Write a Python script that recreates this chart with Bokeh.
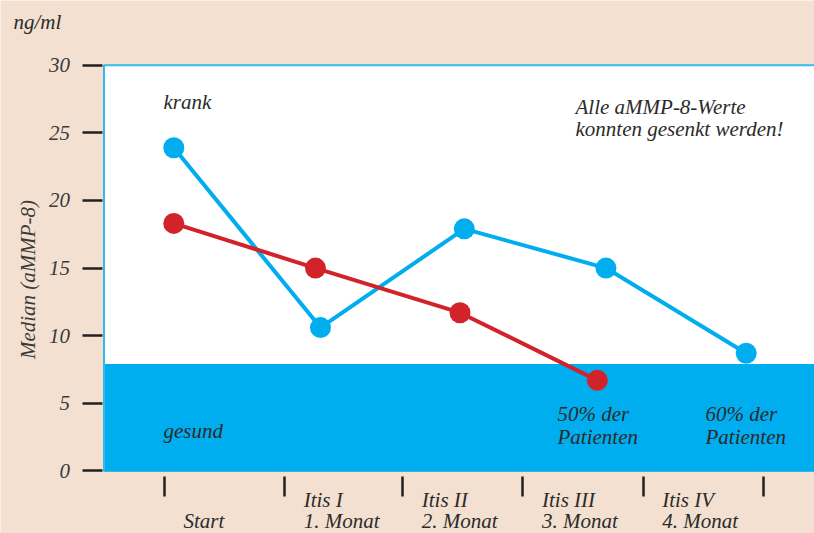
import math
from bokeh.plotting import figure
from bokeh.models import Range1d, FixedTicker, BoxAnnotation, Label
from bokeh.embed import file_html
from bokeh.resources import INLINE

# ---------------- data ----------------
y_ticks = [0, 5, 10, 15, 20, 25, 30]
blue_x = [0, 1.025, 2.03, 3.02, 4.0]
blue_y = [23.9, 10.6, 17.9, 15.0, 8.7]
red_x = [0, 0.99, 2.0, 2.96]
red_y = [18.3, 15.0, 11.7, 6.7]
healthy_top = 7.9           # upper limit of the "gesund" zone
y_max = 30
# boundaries between the time periods on the x axis
x_bounds = [-0.065, 0.775, 1.6, 2.44, 3.28, 4.12]
row1 = ["", "Itis I", "Itis II", "Itis III", "Itis IV"]
row2 = ["Start", "1. Monat", "2. Monat", "3. Monat", "4. Monat"]
y_title = "Median (aMMP-8)"
unit_text = "ng/ml"
zone_ill = "krank"
zone_healthy = "gesund"
note_lines = ["Alle aMMP-8-Werte", "konnten gesenkt werden!"]
share_red = ["50% der", "Patienten"]
share_blue = ["60% der", "Patienten"]

# ---------------- layout / style ----------------
BEIGE = "#f3e0d0"
BLUE = "#00aeef"
RED = "#d2232a"
INK = "#2b2b2b"
FONT = "Liberation Serif"
FS = "21px"

W, H = 814, 533
SX = 143.1     # px per period
SY = 13.525    # px per ng/ml
X0 = -173.3 / SX
X1 = X0 + W / SX
Y0 = -(H - 470.45) / SY
Y1 = Y0 + H / SY
TXT_SHIFT = 7  # baseline correction for labels (px)


def dx(px):
    return X0 + px / SX


def dy(py):
    return Y0 + (H - py) / SY


def ty(py):
    return dy(py - TXT_SHIFT)


p = figure(width=W, height=H, output_backend="svg", toolbar_location=None,
           x_range=Range1d(X0, X1), y_range=Range1d(Y0, Y1), title=None,
           min_border=0, min_border_left=0, min_border_right=0,
           min_border_top=0, min_border_bottom=0)
p.background_fill_color = BEIGE
p.border_fill_color = BEIGE
p.outline_line_color = None
p.grid.visible = False

# white panel and healthy zone
p.add_layout(BoxAnnotation(left=dx(103.5), right=X1 + 1, bottom=0, top=y_max,
                           fill_color="white", fill_alpha=1,
                           line_color=BLUE, line_width=2, line_alpha=0.8,
                           level="underlay"))
p.add_layout(BoxAnnotation(left=dx(104.5), right=X1 + 1, bottom=0, top=healthy_top,
                           fill_color=BLUE, fill_alpha=1, line_color=None,
                           level="underlay"))

# axes (drawn at fixed places inside the canvas)
ya = p.yaxis[0]
ya.fixed_location = dx(101.5)
ya.bounds = (0, y_max)
ya.ticker = FixedTicker(ticks=y_ticks)
ya.axis_line_color = None
ya.major_tick_in = 0
ya.major_tick_out = 20
ya.major_tick_line_width = 2.5
ya.major_tick_line_color = "#231f20"
ya.minor_tick_line_color = None
ya.major_label_standoff = 12
ya.major_label_text_font = FONT
ya.major_label_text_font_style = "italic"
ya.major_label_text_font_size = FS
ya.major_label_text_color = "#3a3a3a"

xa = p.xaxis[0]
xa.fixed_location = dy(476)
xa.ticker = FixedTicker(ticks=x_bounds)
xa.axis_line_color = None
xa.major_tick_in = 0
xa.major_tick_out = 20
xa.major_tick_line_width = 2.5
xa.major_tick_line_color = "#231f20"
xa.minor_tick_line_color = None
xa.major_label_text_color = None

# series
p.line(blue_x, blue_y, line_color=BLUE, line_width=4)
p.line(red_x, red_y, line_color=RED, line_width=4)
p.scatter(blue_x, blue_y, size=21, fill_color=BLUE, line_color=None)
p.scatter(red_x, red_y, size=21, fill_color=RED, line_color=None)


def lab(text, px, py, **kw):
    p.add_layout(Label(x=dx(px), y=ty(py), text=text, text_font=FONT,
                       text_font_style="italic", text_font_size=FS,
                       text_color=INK, text_baseline="alphabetic", **kw))


# x category labels, placed just right of each boundary tick
for i in range(len(row2)):
    if row1[i]:
        p.add_layout(Label(x=x_bounds[i], y=ty(506), x_offset=19, text=row1[i],
                           text_font=FONT, text_font_style="italic",
                           text_font_size=FS, text_color=INK,
                           text_baseline="alphabetic"))
    p.add_layout(Label(x=x_bounds[i], y=ty(527), x_offset=19, text=row2[i],
                       text_font=FONT, text_font_style="italic",
                       text_font_size=FS, text_color=INK,
                       text_baseline="alphabetic"))

lab(unit_text, 13, 28)
lab(zone_ill, 163, 108)
lab(zone_healthy, 163, 437)
lab(note_lines[0], 575, 113)
lab(note_lines[1], 575, 135.5)
lab(share_red[0], 557, 420)
lab(share_red[1], 557, 443)
lab(share_blue[0], 705, 420)
lab(share_blue[1], 705, 443)
p.add_layout(Label(x=dx(27), y=dy(279), text=y_title, angle=math.pi / 2,
                   text_font=FONT, text_font_style="italic", text_font_size=FS,
                   text_color="#3a3a3a", text_align="center",
                   text_baseline="middle"))

open("out.html", "w").write(file_html(p, INLINE))
